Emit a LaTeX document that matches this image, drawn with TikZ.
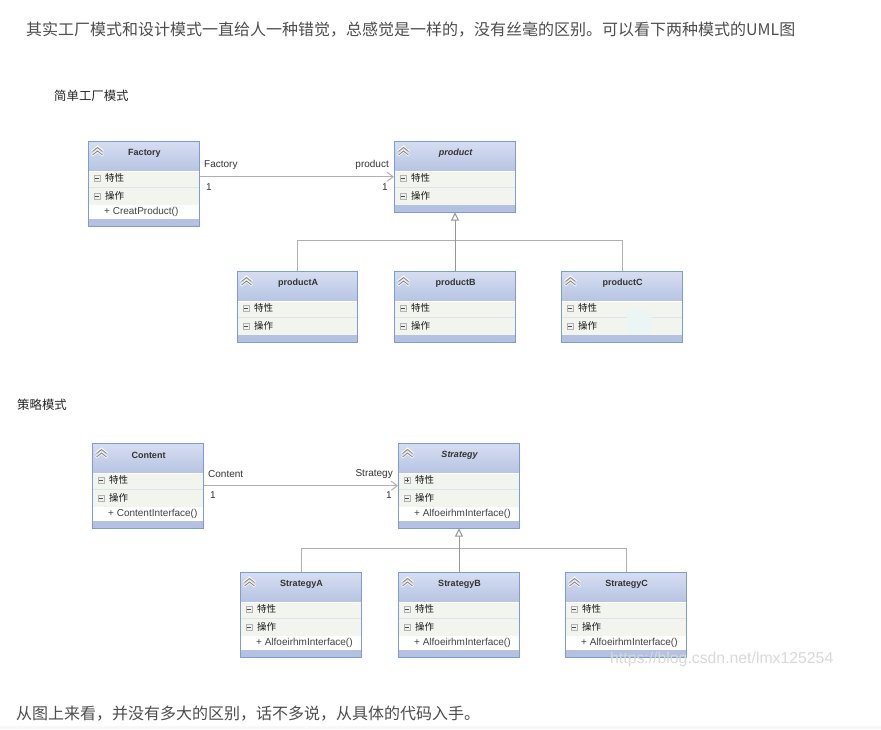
\documentclass[tikz,border=0pt]{standalone}
\usepackage{fontspec}
\setmainfont{Liberation Sans}
\newfontfamily\cjk{Noto Sans CJK SC}
\usetikzlibrary{arrows.meta}
\definecolor{framecol}{HTML}{7C9CD3}
\definecolor{headtop}{HTML}{D6DEF1}
\definecolor{headbot}{HTML}{B7C4E2}
\definecolor{compcol}{HTML}{F2F5EE}
\definecolor{sepcol}{HTML}{DCE4EE}
\definecolor{footcol}{HTML}{B4C1E0}
\definecolor{linecol}{HTML}{B0B0B0}
\definecolor{textcol}{HTML}{4D4D4D}
\definecolor{markcol}{HTML}{EBF5F4}
\tikzset{
    x=1pt, y=-1pt,
    classbox/.style={draw=framecol, line width=1pt, inner sep=0pt, anchor=north west},
    classname/.style={font=\fontsize{9}{9}\selectfont\bfseries, text=black!80},
    member/.style={font=\cjk\fontsize{9.5}{10}\selectfont, anchor=west, inner sep=0pt, text=black!90},
    opname/.style={font=\fontsize{10}{10}\selectfont, anchor=west, inner sep=0pt, text=black!75},
    rolename/.style={font=\fontsize{10}{10}\selectfont, inner sep=0pt, text=black!80},
    para/.style={font=\cjk\fontsize{16}{16}\selectfont, anchor=west, inner sep=0pt, text=textcol},
    caption/.style={font=\cjk\fontsize{12.4}{13}\selectfont, anchor=west, inner sep=0pt, text=black!85},
    assoc/.style={draw=linecol, line width=1pt, -{Straight Barb[length=6pt,width=9pt]}},
    busline/.style={draw=linecol, line width=1pt},
    inherit/.style={draw=linecol!85!black, line width=1pt, -{Triangle[open,fill=white,length=8pt,width=8pt]}},
}
% one class: #1 name, #2 x, #3 y, #4 width, #5 title, #6 operation line (may be empty)
\newcommand{\umlclass}[6]{
    \fill[compcol] (#2, #3+30) rectangle (#2+#4, #3+64);
    \fill[top color=headtop, bottom color=headbot] (#2, #3) rectangle (#2+#4, #3+30);
    \draw[sepcol] (#2, #3+46.5) -- (#2+#4, #3+46.5);
    \draw[white] (#2, #3+30) -- (#2+#4, #3+30);
    \node[member] (#1attr) at (#2+17, #3+37) {特性};
    \node[member] (#1oper) at (#2+17, #3+55) {操作};
    \foreach \rowy in {37, 55} {
        \draw[gray!60, fill=gray!12, line width=0.6pt] (#2+6, #3+\rowy-3) rectangle (#2+12, #3+\rowy+3);
        \draw[black!70, line width=0.6pt] (#2+7, #3+\rowy) -- (#2+11, #3+\rowy);
    }
    \draw[white, line width=2.4pt] (#2+4, #3+10.5) -- (#2+9.5, #3+6) -- (#2+15, #3+10.5)
        (#2+4, #3+14.5) -- (#2+9.5, #3+10) -- (#2+15, #3+14.5);
    \draw[gray!90, line width=1pt] (#2+4.5, #3+10.5) -- (#2+9.5, #3+6.5) -- (#2+14.5, #3+10.5)
        (#2+4.5, #3+14) -- (#2+9.5, #3+10) -- (#2+14.5, #3+14);
    \def\boxh{70.5}
    \ifx&#6&\else
        \def\boxh{84.5}
        \fill[white] (#2, #3+64) rectangle (#2+#4, #3+78);
        \node[opname] (#1op) at (#2+16, #3+71) {#6};
    \fi
    \fill[footcol] (#2, #3+\boxh-7) rectangle (#2+#4, #3+\boxh);
    \node[classbox, minimum width=#4 pt, minimum height=\boxh pt] (#1) at (#2, #3) {};
    \node[classname] (#1title) at (#2+#4/2+1, #3+12) {#5};
}
\begin{document}
\begin{tikzpicture}
    \useasboundingbox (0, 0) rectangle (881, 729);
    \fill[white] (0, 0) rectangle (881, 729);
    \fill[gray!6] (0, 726) rectangle (881, 729);
    \node[para] (intro) at (26, 30) {其实工厂模式和设计模式一直给人一种错觉，总感觉是一样的，没有丝毫的区别。可以看下两种模式的UML图};
    \node[caption] (factorycap) at (54, 95.5) {简单工厂模式};
    \node[caption] (strategycap) at (17, 404.5) {策略模式};
    \node[para] (outro) at (16, 714) {从图上来看，并没有多大的区别，话不多说，从具体的代码入手。};
    % simple factory
    \umlclass{Factory}{88}{141}{111}{Factory}{+ CreatProduct()}
    \umlclass{product}{394}{141}{121}{\itshape product}{}
    \umlclass{productA}{237}{271}{120}{productA}{}
    \umlclass{productB}{394}{271}{121}{productB}{}
    \umlclass{productC}{561}{271}{121}{productC}{}
    \fill[markcol, rounded corners=3pt] (627, 310) rectangle (651, 333);
    \draw[assoc] (Factory.east |- product.west) -- (product.west);
    \node[rolename, anchor=west] (factoryrole) at (204, 165) {Factory};
    \node[rolename, anchor=east] (productrole) at (389, 165) {product};
    \node[rolename, anchor=west] (factorynum) at (206, 187) {1};
    \node[rolename, anchor=east] (productnum) at (388, 187) {1};
    \coordinate (productbus) at (454.5, 240.5);
    \draw[busline] (productA.north) |- (productbus) -| (productC.north);
    \draw[inherit] (productB.north) -- (product.south);
    % strategy
    \umlclass{Content}{92}{443}{111}{Content}{+ ContentInterface()}
    \umlclass{Strategy}{398}{443}{121}{\itshape Strategy}{+ AlfoeirhmInterface()}
    \draw[black!70, line width=0.6pt] ([xshift=-8pt, yshift=2pt]Strategyattr.west) -- ([xshift=-8pt, yshift=-2pt]Strategyattr.west);
    \umlclass{StrategyA}{240}{572}{121}{StrategyA}{+ AlfoeirhmInterface()}
    \umlclass{StrategyB}{398}{572}{121}{StrategyB}{+ AlfoeirhmInterface()}
    \umlclass{StrategyC}{565}{572}{121}{StrategyC}{+ AlfoeirhmInterface()}
    \draw[assoc] (Content.east) -- (Strategy.west);
    \node[rolename, anchor=west] (contentrole) at (208, 474) {Content};
    \node[rolename, anchor=east] (strategyrole) at (393, 474) {Strategy};
    \node[rolename, anchor=west] (contentnum) at (210, 495) {1};
    \node[rolename, anchor=east] (strategynum) at (392, 495) {1};
    \coordinate (strategybus) at (458.5, 548.5);
    \draw[busline] (StrategyA.north) |- (strategybus) -| (StrategyC.north);
    \draw[inherit] (StrategyB.north) -- (Strategy.south);
    % watermark
    \node[font=\fontsize{15.8}{16}\selectfont, text=gray!30, anchor=west, inner sep=0pt] (watermark) at (610, 659) {https://blog.csdn.net/lmx125254};
\end{tikzpicture}
\end{document}
